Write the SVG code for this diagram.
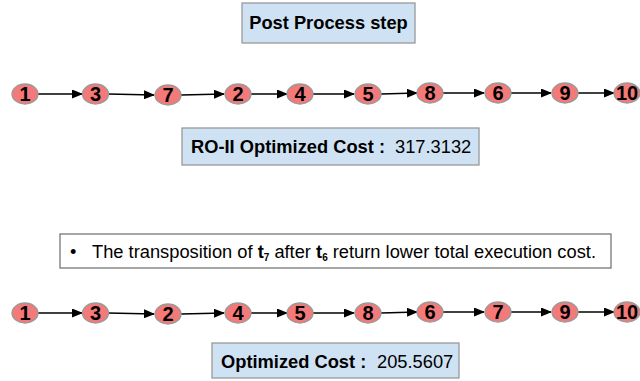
<svg xmlns="http://www.w3.org/2000/svg" width="640" height="381" viewBox="0 0 640 381">
<defs>
<style>
.box{fill:#cfe2f3;stroke:#999;stroke-width:1.3}
.wbox{fill:#fff;stroke:#777;stroke-width:1.3}
.node ellipse{fill:#f47a7a;stroke:#999;stroke-width:1.3}
.node text{font-family:"Liberation Sans",Arial,sans-serif;font-weight:bold;font-size:20px;text-anchor:middle;fill:#000}
.lbl{font-family:"Liberation Sans",Arial,sans-serif;font-size:18.3px;fill:#000}
.b{font-weight:bold}
#connectors line{stroke:#000;stroke-width:1.5;marker-end:url(#ah)}
</style>
<marker id="ah" markerWidth="11" markerHeight="9" refX="10" refY="4.5" orient="auto" markerUnits="userSpaceOnUse"><path d="M0,0 L11,4.5 L0,9 z" fill="#000"/></marker>
</defs>
<rect width="640" height="381" fill="#fff"/>

<g id="title"><rect class="box" x="242" y="3" width="173" height="40"/><text class="lbl b" x="328.5" y="29" text-anchor="middle" font-size="18">Post Process step</text></g>

<g id="connectors">
<line x1="38" y1="94" x2="82" y2="94"/>
<line x1="108" y1="94" x2="154" y2="95"/>
<line x1="181" y1="95" x2="224" y2="94"/>
<line x1="251" y1="94" x2="287" y2="94"/>
<line x1="313" y1="94" x2="354" y2="94"/>
<line x1="381" y1="94" x2="417" y2="93"/>
<line x1="443" y1="93" x2="484" y2="93"/>
<line x1="511" y1="93" x2="551" y2="93"/>
<line x1="578" y1="93" x2="614" y2="93"/>

<line x1="38" y1="313" x2="82" y2="313"/>
<line x1="108" y1="313" x2="154" y2="314"/>
<line x1="181" y1="314" x2="224" y2="313"/>
<line x1="251" y1="313" x2="287" y2="313"/>
<line x1="313" y1="313" x2="354" y2="313"/>
<line x1="381" y1="313" x2="417" y2="312"/>
<line x1="443" y1="312" x2="484" y2="312"/>
<line x1="511" y1="312" x2="551" y2="312"/>
<line x1="578" y1="312" x2="614" y2="312"/>
</g>

<g id="r1n1" class="node"><ellipse cx="25" cy="94" rx="13" ry="10"/><text x="25" y="101">1</text></g>
<g id="r1n3" class="node"><ellipse cx="95.5" cy="94" rx="13" ry="10"/><text x="95.5" y="101">3</text></g>
<g id="r1n7" class="node"><ellipse cx="168" cy="95" rx="13" ry="10"/><text x="168" y="102">7</text></g>
<g id="r1n2" class="node"><ellipse cx="238" cy="94" rx="13" ry="10"/><text x="238" y="101">2</text></g>
<g id="r1n4" class="node"><ellipse cx="300" cy="94" rx="13" ry="10"/><text x="300" y="101">4</text></g>
<g id="r1n5" class="node"><ellipse cx="368" cy="94" rx="13" ry="10"/><text x="368" y="101">5</text></g>
<g id="r1n8" class="node"><ellipse cx="430" cy="93" rx="13" ry="10"/><text x="430" y="100">8</text></g>
<g id="r1n6" class="node"><ellipse cx="498" cy="93" rx="13" ry="10"/><text x="498" y="100">6</text></g>
<g id="r1n9" class="node"><ellipse cx="565" cy="93" rx="13" ry="10"/><text x="565" y="100">9</text></g>
<g id="r1n10" class="node"><ellipse cx="627" cy="93" rx="13" ry="10"/><text x="627" y="100">10</text></g>

<g id="cost1"><rect class="box" x="182" y="128" width="297" height="37"/><text class="lbl" x="191" y="153"><tspan class="b">RO-II Optimized Cost :</tspan><tspan x="395">317.3132</tspan></text></g>

<g id="note"><rect class="wbox" x="60" y="234" width="551" height="34"/><text class="lbl" x="70" y="258">•</text><text class="lbl" x="92" y="258">The transposition of <tspan class="b">t</tspan><tspan class="b" font-size="10" dy="3">7</tspan><tspan dy="-3"> after </tspan><tspan class="b">t</tspan><tspan class="b" font-size="10" dy="3">6</tspan><tspan dy="-3"> return lower total execution cost.</tspan></text></g>

<g id="r2n1" class="node"><ellipse cx="25" cy="313" rx="13" ry="10"/><text x="25" y="320">1</text></g>
<g id="r2n3" class="node"><ellipse cx="95.5" cy="313" rx="13" ry="10"/><text x="95.5" y="320">3</text></g>
<g id="r2n2" class="node"><ellipse cx="168" cy="314" rx="13" ry="10"/><text x="168" y="321">2</text></g>
<g id="r2n4" class="node"><ellipse cx="238" cy="313" rx="13" ry="10"/><text x="238" y="320">4</text></g>
<g id="r2n5" class="node"><ellipse cx="300" cy="313" rx="13" ry="10"/><text x="300" y="320">5</text></g>
<g id="r2n8" class="node"><ellipse cx="368" cy="313" rx="13" ry="10"/><text x="368" y="320">8</text></g>
<g id="r2n6" class="node"><ellipse cx="430" cy="312" rx="13" ry="10"/><text x="430" y="319">6</text></g>
<g id="r2n7" class="node"><ellipse cx="498" cy="312" rx="13" ry="10"/><text x="498" y="319">7</text></g>
<g id="r2n9" class="node"><ellipse cx="565" cy="312" rx="13" ry="10"/><text x="565" y="319">9</text></g>
<g id="r2n10" class="node"><ellipse cx="627" cy="312" rx="13" ry="10"/><text x="627" y="319">10</text></g>

<g id="cost2"><rect class="box" x="212" y="343" width="247" height="35"/><text class="lbl" x="221" y="368"><tspan class="b">Optimized Cost :</tspan><tspan x="377">205.5607</tspan></text></g>
</svg>
